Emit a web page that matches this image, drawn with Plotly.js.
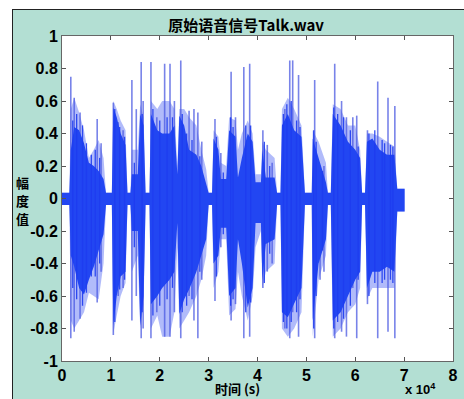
<!DOCTYPE html>
<html><head><meta charset="utf-8">
<script src="https://cdn.plot.ly/plotly-3.0.1.min.js"></script>
<style>
html,body{margin:0;padding:0;background:#fff;width:464px;height:399px;overflow:hidden}
#edge{position:absolute;left:12px;top:9px;width:460px;height:400px;border-left:1.5px solid #222;border-top:1.5px solid #222;background:#b3dfd3}
#chart{position:absolute;left:13px;top:10px;width:451px;height:389px}
</style></head>
<body>
<div id="edge"></div>
<div id="chart"></div>
<script>
// time axis in units of 10^4 samples
const envT = [
 0, 0.15, 0.18, 0.25, 0.35, 0.45, 0.55, 0.65, 0.75, 0.85,
 0.90, 1.02, 1.05, 1.12, 1.20, 1.30, 1.34, 1.40, 1.43, 1.55,
 1.60, 1.67, 1.71, 1.79, 1.82, 1.95, 2.05, 2.20, 2.30, 2.36,
 2.40, 2.50, 2.60, 2.75, 2.85, 2.95, 3.00, 3.07, 3.10, 3.20,
 3.25, 3.36, 3.42, 3.55, 3.60, 3.68, 3.80, 3.90, 3.96, 4.07,
 4.10, 4.17, 4.35, 4.40, 4.47, 4.50, 4.62, 4.75, 4.90, 4.97,
 5.11, 5.13, 5.25, 5.40, 5.44, 5.50, 5.54, 5.70, 5.85, 6.00,
 6.10, 6.14, 6.20, 6.24, 6.35, 6.50, 6.65, 6.80, 6.86, 7.01];
// dense (dark) part of the waveform envelope
const coreHi = [
 .035, .035, .30, .44, .42, .34, .22, .20, .17, .12,
 .035, .035, .56, .50, .40, .33, .035, .035, .15, .15,
 .52, .45, .035, .035, .52, .42, .40, .40, .45, .15,
 .51, .45, .30, .27, .20, .10, .035, .035, .37, .30,
 .12, .12, .42, .38, .13, .25, .40, .35, .10, .10,
 .30, .13, .13, .035, .035, .45, .52, .42, .38, .035,
 .035, .37, .25, .10, .035, .035, .52, .45, .35, .30,
 .25, .035, .035, .35, .37, .30, .27, .27, .06, .06];
const coreLo = [
 -.04, -.04, -.35, -.42, -.55, -.59, -.50, -.42, -.32, -.22,
 -.04, -.04, -.78, -.60, -.48, -.45, -.04, -.04, -.20, -.20,
 -.78, -.60, -.04, -.04, -.65, -.60, -.55, -.50, -.45, -.15,
 -.71, -.62, -.56, -.45, -.35, -.25, -.04, -.04, -.40, -.35,
 -.18, -.18, -.60, -.55, -.25, -.40, -.67, -.55, -.15, -.15,
 -.50, -.28, -.25, -.04, -.04, -.70, -.73, -.65, -.55, -.04,
 -.04, -.75, -.40, -.25, -.04, -.04, -.75, -.70, -.60, -.50,
 -.45, -.04, -.04, -.55, -.45, -.45, -.42, -.45, -.08, -.08];
// lighter, sparser part of the envelope
const liteHi = [
 .035, .035, .55, .62, .53, .42, .25, .30, .36, .25,
 .035, .035, .60, .55, .48, .42, .035, .035, .30, .30,
 .58, .50, .035, .035, .60, .55, .60, .60, .55, .20,
 .55, .55, .50, .45, .30, .18, .035, .035, .42, .38,
 .22, .20, .50, .48, .30, .40, .48, .40, .15, .15,
 .35, .30, .25, .035, .035, .55, .62, .55, .45, .035,
 .035, .42, .35, .22, .035, .035, .58, .55, .45, .45,
 .30, .035, .035, .40, .40, .38, .35, .32, .06, .06];
const liteLo = [
 -.04, -.04, -.75, -.80, -.75, -.70, -.58, -.60, -.62, -.40,
 -.04, -.04, -.83, -.72, -.60, -.52, -.04, -.04, -.45, -.35,
 -.80, -.65, -.04, -.04, -.80, -.72, -.85, -.85, -.70, -.30,
 -.80, -.75, -.70, -.60, -.50, -.35, -.04, -.04, -.55, -.45,
 -.25, -.25, -.72, -.68, -.45, -.60, -.75, -.60, -.30, -.20,
 -.55, -.45, -.40, -.04, -.04, -.80, -.85, -.80, -.70, -.04,
 -.04, -.85, -.50, -.35, -.04, -.04, -.85, -.80, -.70, -.65,
 -.55, -.04, -.04, -.62, -.55, -.55, -.55, -.55, -.08, -.08];
// isolated tall peaks (light)
const spikeT   = [0.18, 0.25, 0.37, 0.72, 0.80, 1.05, 1.15, 1.25, 1.43, 1.52, 1.62, 1.66, 1.82, 1.94, 2.10, 2.21, 2.30, 2.43, 2.60, 2.70, 2.78, 2.86, 3.13, 3.25, 3.46, 3.55, 3.72, 3.84, 4.11, 4.20, 4.30, 4.56, 4.66, 4.72, 4.84, 5.17, 5.28, 5.36, 5.58, 5.72, 5.82, 5.95, 6.03, 6.25, 6.46, 6.67, 6.81];
const spikeTop = [0.75, 0.62, 0.53, 0.49, 0.34, 0.59, 0.47, 0.42, 0.73, 0.55, 0.84, 0.60, 0.84, 0.50, 0.83, 0.83, 0.60, 0.85, 0.54, 0.55, 0.53, 0.35, 0.49, 0.28, 0.78, 0.50, 0.81, 0.83, 0.42, 0.33, 0.22, 0.55, 0.85, 0.85, 0.76, 0.73, 0.20, 0.20, 0.83, 0.60, 0.50, 0.50, 0.51, 0.42, 0.72, 0.62, 0.57];
const spikeBot = [-0.86, -0.82, -0.74, -0.64, -0.45, -0.84, -0.60, -0.55, -0.75, -0.60, -0.86, -0.80, -0.86, -0.70, -0.85, -0.85, -0.70, -0.86, -0.60, -0.75, -0.86, -0.50, -0.63, -0.30, -0.75, -0.65, -0.86, -0.85, -0.55, -0.45, -0.40, -0.80, -0.86, -0.70, -0.85, -0.86, -0.50, -0.45, -0.86, -0.82, -0.85, -0.55, -0.86, -0.65, -0.86, -0.82, -0.86];
// medium peaks that roughen the dense part (dark)
const midT   = [0.22, 0.30, 0.42, 0.50, 0.60, 0.68, 0.77, 1.08, 1.18, 1.28, 1.48, 1.64, 1.86, 2.00, 2.15, 2.26, 2.46, 2.55, 2.66, 2.82, 3.16, 3.30, 3.45, 3.50, 3.76, 3.86, 4.14, 4.25, 4.53, 4.60, 4.69, 4.80, 4.87, 5.15, 5.20, 5.33, 5.56, 5.64, 5.76, 5.90, 6.06, 6.28, 6.40, 6.55, 6.60, 6.72, 6.77];
const midTop = [0.48, 0.52, 0.45, 0.34, 0.27, 0.30, 0.25, 0.55, 0.44, 0.38, 0.22, 0.52, 0.55, 0.48, 0.50, 0.50, 0.52, 0.40, 0.36, 0.26, 0.38, 0.16, 0.50, 0.44, 0.45, 0.45, 0.35, 0.20, 0.52, 0.58, 0.60, 0.48, 0.44, 0.42, 0.35, 0.17, 0.56, 0.52, 0.50, 0.42, 0.32, 0.40, 0.42, 0.36, 0.34, 0.33, 0.32];
const midBot = [-0.55, -0.62, -0.66, -0.58, -0.48, -0.48, -0.40, -0.76, -0.56, -0.50, -0.30, -0.70, -0.72, -0.66, -0.62, -0.55, -0.70, -0.66, -0.62, -0.45, -0.48, -0.22, -0.66, -0.62, -0.70, -0.64, -0.52, -0.34, -0.76, -0.80, -0.76, -0.70, -0.62, -0.80, -0.60, -0.32, -0.80, -0.76, -0.74, -0.66, -0.50, -0.60, -0.52, -0.52, -0.50, -0.50, -0.52];
const xTicks = [0, 1, 2, 3, 4, 5, 6, 7, 8];
const yTicks = [-1, -0.8, -0.6, -0.4, -0.2, 0, 0.2, 0.4, 0.6, 0.8, 1];
const yTickText = ['-1', '-0.8', '-0.6', '-0.4', '-0.2', '0', '0.2', '0.4', '0.6', '0.8', '1'];
const yLabelChars = ['幅', '度', '值'];

function bars(ts, tops, bots) {
  const x = [], y = [];
  ts.forEach((t, i) => { x.push(t, t, null); y.push(tops[i], bots[i], null); });
  return {x, y};
}
const sp = bars(spikeT, spikeTop, spikeBot);
const md = bars(midT, midTop, midBot);

const noLine = {width: 0, color: 'rgba(0,0,0,0)'};
const traces = [
 {x: envT, y: liteLo, mode: 'lines', line: noLine, hoverinfo: 'skip', showlegend: false},
 {x: envT, y: liteHi, mode: 'lines', line: noLine, fill: 'tonexty', fillcolor: 'rgba(100,120,245,0.5)', hoverinfo: 'skip', showlegend: false},
 {x: sp.x, y: sp.y, mode: 'lines', line: {color: 'rgba(75,90,225,0.75)', width: 1.6}, hoverinfo: 'skip', showlegend: false},
 {x: envT, y: coreLo, mode: 'lines', line: noLine, hoverinfo: 'skip', showlegend: false},
 {x: envT, y: coreHi, mode: 'lines', line: noLine, fill: 'tonexty', fillcolor: '#2246f2', hoverinfo: 'skip', showlegend: false},
 {x: md.x, y: md.y, mode: 'lines', line: {color: 'rgba(30,60,240,0.9)', width: 1.3}, hoverinfo: 'skip', showlegend: false}
];

const tickFont = {family: 'Liberation Sans, Arial, sans-serif', size: 16, color: '#000', weight: 'bold'};
const cjk = 'Noto Sans CJK SC, Liberation Sans, sans-serif';
const annos = [
  {text: '时间 (s)', xref: 'paper', yref: 'paper', x: 0.448, y: -0.084, xanchor: 'center', yanchor: 'middle',
   showarrow: false, font: {family: cjk, size: 13, color: '#000', weight: 'bold'}},
  {text: 'x 10<sup>4</sup>', xref: 'paper', yref: 'paper', x: 0.918, y: -0.086, xanchor: 'center', yanchor: 'middle',
   showarrow: false, font: {family: 'Liberation Sans, Arial, sans-serif', size: 13, color: '#000', weight: 'bold'}}
];
const labelY = [0.548, 0.493, 0.438];
yLabelChars.forEach((c, i) => annos.push({text: c, xref: 'paper', yref: 'paper', x: -0.1, y: labelY[i],
  xanchor: 'center', yanchor: 'middle', showarrow: false, font: {family: cjk, size: 13, color: '#000', weight: 'bold'}}));

const layout = {
 width: 451, height: 389,
 margin: {l: 49, r: 11, t: 26, b: 38},
 paper_bgcolor: '#b3dfd3', plot_bgcolor: '#ffffff',
 title: {text: '原始语音信号Talk.wav', font: {family: cjk, size: 15, color: '#000', weight: 'bold'},
         x: 0.517, xanchor: 'center', y: 0.96, yanchor: 'middle', xref: 'container', yref: 'container'},
 xaxis: {range: [0, 8], tickvals: xTicks, ticktext: xTicks.map(String), ticks: 'inside', ticklen: 4, tickcolor: '#555',
         showline: true, mirror: 'ticks', linecolor: '#666', linewidth: 1, showgrid: false, zeroline: false,
         tickfont: tickFont, fixedrange: true},
 yaxis: {range: [-1, 1], tickvals: yTicks, ticktext: yTickText, ticks: 'inside', ticklen: 4, tickcolor: '#555',
         showline: true, mirror: 'ticks', linecolor: '#666', linewidth: 1, showgrid: false, zeroline: false,
         tickfont: tickFont, fixedrange: true},
 annotations: annos
};
Plotly.newPlot('chart', traces, layout, {displayModeBar: false, staticPlot: true});
</script>
</body></html>
